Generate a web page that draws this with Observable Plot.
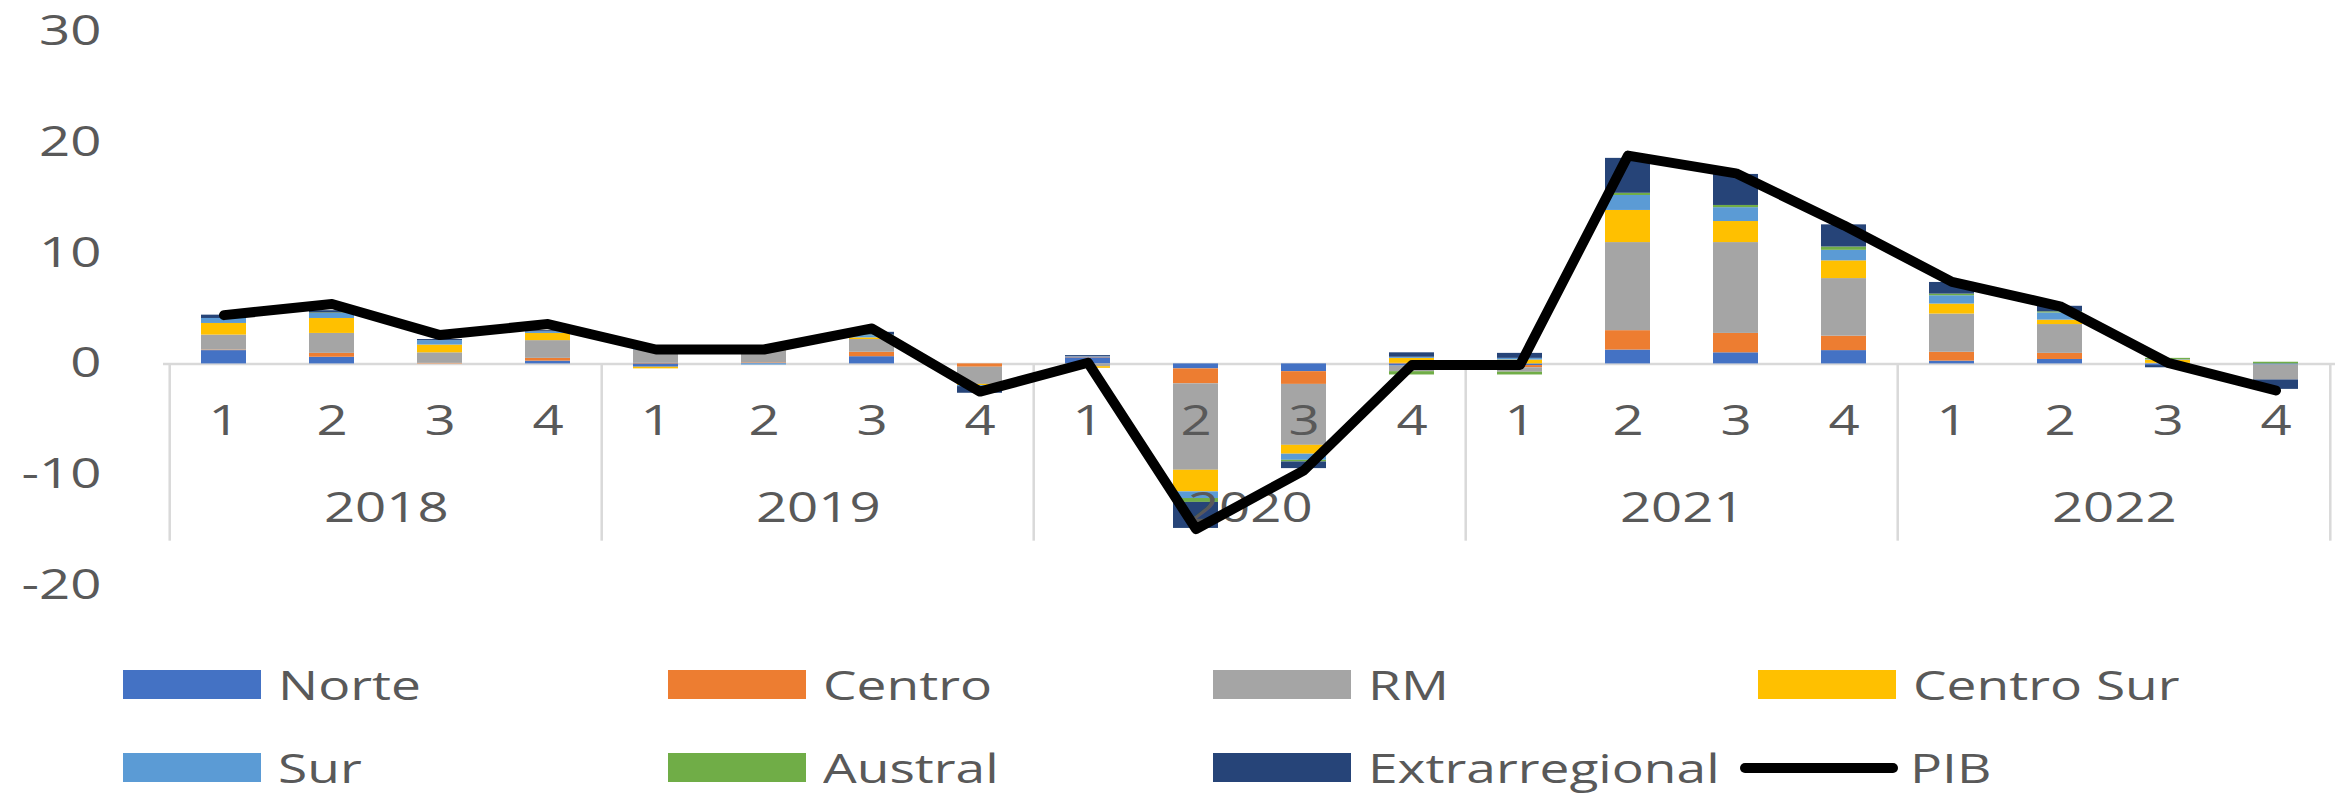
<!DOCTYPE html>
<html><head><meta charset="utf-8">
<script src="https://cdn.jsdelivr.net/npm/d3@7"></script>
<script src="https://cdn.jsdelivr.net/npm/@observablehq/plot@0.6"></script>
<style>
body{margin:0;background:#fff;font-family:"Open Sans",sans-serif;}
#chart svg{display:block}
#legend{position:relative;width:2346px;height:168px;}
.item{position:absolute;display:flex;align-items:center;height:29px;}
.sw{width:138px;height:29px;flex:none;}
.ln{width:158px;height:10px;border-radius:5px;background:#000;flex:none;}
.lab{font-size:41px;color:#595959;transform:scaleX(1.3);transform-origin:left center;margin-left:17px;white-space:nowrap;line-height:1;}
</style></head><body><div id="chart"></div><div id="legend"></div>
<script>
const years = [2018, 2019, 2020, 2021, 2022];
const quarterNums = [1, 2, 3, 4];
const seriesNames = ["Norte", "Centro", "RM", "Centro Sur", "Sur", "Austral", "Extrarregional"];
const seriesColors = ["#4472C4", "#ED7D31", "#A5A5A5", "#FFC000", "#5B9BD5", "#70AD47", "#264478"];
// values per quarter, 2018Q1 .. 2022Q4
const norte  = [1.2, 0.6, 0.0, 0.25, -0.3, 0.05, 0.65, 0.0, 0.55, -0.45, -0.7, -0.2, -0.15, 1.25, 1.0, 1.2, 0.25, 0.4, -0.15, -0.1];
const centro = [0.05, 0.35, 0.05, 0.25, 0.05, 0.05, 0.4, -0.3, 0.05, -1.35, -1.15, 0.05, -0.2, 1.75, 1.75, 1.3, 0.8, 0.55, 0.0, 0.0];
const rm     = [1.35, 1.8, 0.95, 1.6, 1.2, 1.1, 1.15, -1.55, -0.25, -7.8, -5.5, -0.5, -0.4, 7.95, 8.2, 5.2, 3.45, 2.6, 0.05, -1.35];
const centroSur = [1.05, 1.35, 0.7, 0.65, -0.15, 0.1, 0.15, -0.1, -0.15, -1.95, -0.8, 0.45, 0.35, 2.9, 1.9, 1.6, 0.9, 0.4, 0.3, 0.0];
const sur    = [0.45, 0.45, 0.4, 0.15, 0.05, -0.1, 0.2, -0.1, 0.05, -0.6, -0.55, 0.1, 0.15, 1.35, 1.25, 0.95, 0.75, 0.65, 0.05, 0.0];
const austral = [0.0, 0.05, 0.0, 0.0, 0.0, 0.0, 0.05, 0.0, 0.0, -0.35, -0.15, -0.3, -0.25, 0.2, 0.2, 0.3, 0.15, 0.1, 0.1, 0.15];
const extra  = [0.3, 0.2, 0.1, 0.1, 0.2, 0.1, 0.25, -0.6, 0.1, -2.35, -0.6, 0.4, 0.45, 3.15, 2.8, 2.0, 1.05, 0.5, -0.2, -0.85];
const pib    = [4.4, 5.4, 2.6, 3.6, 1.3, 1.3, 3.2, -2.5, 0.1, -14.9, -9.6, -0.1, -0.1, 18.8, 17.2, 12.5, 7.4, 5.2, 0.1, -2.4];
const yTicks = [30, 20, 10, 0, -10, -20];

const seriesValues = [norte, centro, rm, centroSur, sur, austral, extra];
const quarters = years.flatMap(y => quarterNums.map(q => ({key: `${y}-${q}`, year: y, q})));
const keys = quarters.map(d => d.key);

const tidy = [];
seriesNames.forEach((s, si) => {
  quarters.forEach((d, i) => tidy.push({key: d.key, series: s, value: seriesValues[si][i]}));
});
const pibData = quarters.map((d, i) => ({key: d.key, v: pib[i]}));

const W = 2346, H = 625, mL = 163, mR = 11, mT = 31, mB = 40;
const step = (W - mL - mR) / keys.length;
const txt = "#595959", fs = 42, grid = "#d9d9d9";

const plot = Plot.plot({
  width: W, height: H,
  marginLeft: mL, marginRight: mR, marginTop: mT, marginBottom: mB,
  style: {fontFamily: "Open Sans", background: "#fff"},
  x: {type: "band", domain: keys, paddingInner: 0.586, paddingOuter: 0.293, axis: null},
  y: {domain: [-20, 30], axis: null},
  color: {domain: seriesNames, range: seriesColors},
  marks: [
    Plot.ruleY([0], {stroke: grid, strokeWidth: 2.5}),
    Plot.ruleX(years.map(y => `${y}-1`), {x: d => d, y1: 0, y2: -16, dx: -step / 2, stroke: grid, strokeWidth: 2.5}),
    Plot.ruleX([keys[keys.length - 1]], {x: d => d, y1: 0, y2: -16, dx: step / 2, stroke: grid, strokeWidth: 2.5}),
    Plot.barY(tidy, Plot.stackY({x: "key", y: "value", fill: "series"})),
    Plot.text(yTicks, {y: d => d, text: d => String(d), frameAnchor: "left", dx: -62, textAnchor: "end", fontSize: fs, fill: txt}),
    Plot.text(quarters, {x: "key", y: () => 0, text: d => String(d.q), dy: 58, fontSize: fs, fill: txt}),
    Plot.text(quarters.filter(d => d.q === 2), {x: "key", y: () => 0, text: d => String(d.year), dx: step / 2, dy: 145, fontSize: fs, fill: txt}),
    Plot.line(pibData, {x: "key", y: "v", stroke: "#000", strokeWidth: 10, strokeLinejoin: "round", strokeLinecap: "round"})
  ]
});
plot.querySelectorAll("text").forEach(t => {
  const tr = t.getAttribute("transform") || "";
  t.setAttribute("transform", tr + " scale(1.3,1)");
});
document.getElementById("chart").appendChild(plot);

// legend
const legend = document.getElementById("legend");
const colX = [123, 668, 1213, 1758];
const rowY = [45, 128];
const legendItems = seriesNames.map((s, i) => ({name: s, color: seriesColors[i], line: false}))
  .concat([{name: "PIB", color: "#000", line: true}]);
legendItems.forEach((it, i) => {
  const el = document.createElement("div");
  el.className = "item";
  el.style.left = (it.line ? 1740 : colX[i % 4]) + "px";
  el.style.top = rowY[Math.floor(i / 4)] + "px";
  const sw = document.createElement("div");
  if (it.line) { sw.className = "ln"; }
  else { sw.className = "sw"; sw.style.background = it.color; }
  const lab = document.createElement("span");
  lab.className = "lab";
  if (it.line) lab.style.marginLeft = "12px";
  lab.textContent = it.name;
  el.appendChild(sw); el.appendChild(lab);
  legend.appendChild(el);
});
</script></body></html>
